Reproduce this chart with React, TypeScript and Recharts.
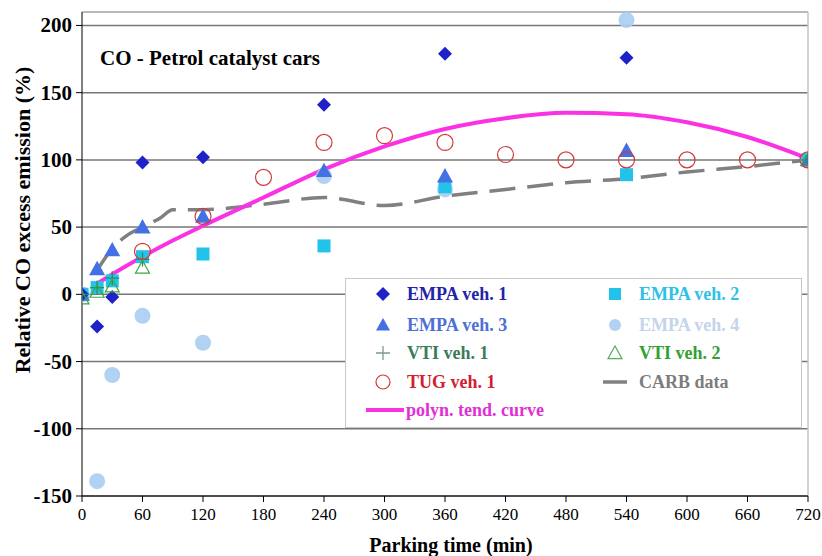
import {
  ComposedChart,
  Scatter,
  Line,
  XAxis,
  YAxis,
  CartesianGrid,
  ReferenceLine,
} from 'recharts'

// parking time (min) / relative CO excess emission (%)
const xTicks = [0, 60, 120, 180, 240, 300, 360, 420, 480, 540, 600, 660, 720]
const yTicks = [-150, -100, -50, 0, 50, 100, 150, 200]

const empa1 = [
  { t: 0, v: 0 }, { t: 15, v: -24 }, { t: 30, v: -2 }, { t: 60, v: 98 },
  { t: 120, v: 102 }, { t: 240, v: 141 }, { t: 360, v: 179 }, { t: 540, v: 176 },
]
const empa2 = [
  { t: 0, v: 0 }, { t: 15, v: 5 }, { t: 30, v: 10 }, { t: 60, v: 28 },
  { t: 120, v: 30 }, { t: 240, v: 36 }, { t: 360, v: 80 }, { t: 540, v: 89 }, { t: 720, v: 100 },
]
const empa3 = [
  { t: 0, v: 0 }, { t: 15, v: 19 }, { t: 30, v: 33 }, { t: 60, v: 50 },
  { t: 120, v: 58 }, { t: 240, v: 92 }, { t: 360, v: 88 }, { t: 540, v: 107 }, { t: 720, v: 100 },
]
const empa4 = [
  { t: 0, v: 0 }, { t: 15, v: -139 }, { t: 30, v: -60 }, { t: 60, v: -16 },
  { t: 120, v: -36 }, { t: 240, v: 88 }, { t: 360, v: 78 }, { t: 540, v: 204 }, { t: 720, v: 100 },
]
const vti1 = [
  { t: 0, v: 0 }, { t: 15, v: 5 }, { t: 30, v: 12 }, { t: 60, v: 26 }, { t: 720, v: 100 },
]
const vti2 = [
  { t: 0, v: -3 }, { t: 15, v: 2 }, { t: 30, v: 6 }, { t: 60, v: 20 }, { t: 720, v: 100 },
]
const tug1 = [
  { t: 60, v: 32 }, { t: 120, v: 58 }, { t: 180, v: 87 }, { t: 240, v: 113 },
  { t: 300, v: 118 }, { t: 360, v: 113 }, { t: 420, v: 104 }, { t: 480, v: 100 },
  { t: 540, v: 100 }, { t: 600, v: 100 }, { t: 660, v: 100 }, { t: 720, v: 100 },
]
const carb = [
  { t: 15, v: 18 }, { t: 30, v: 34 }, { t: 45, v: 44 }, { t: 60, v: 50 }, { t: 78, v: 57 },
  { t: 90, v: 63 }, { t: 120, v: 63 }, { t: 180, v: 67 }, { t: 240, v: 72 }, { t: 300, v: 66 },
  { t: 360, v: 73 }, { t: 420, v: 78 }, { t: 480, v: 83 }, { t: 540, v: 86 }, { t: 600, v: 91 },
  { t: 660, v: 95 }, { t: 720, v: 100 },
]
const polyCurve = [
  { t: 15, v: 8 }, { t: 30, v: 15 }, { t: 60, v: 28 }, { t: 90, v: 40 }, { t: 120, v: 51 },
  { t: 180, v: 72 }, { t: 240, v: 93 }, { t: 300, v: 110 }, { t: 360, v: 123 }, { t: 420, v: 131 },
  { t: 480, v: 135 }, { t: 540, v: 134 }, { t: 600, v: 128 }, { t: 660, v: 117 }, { t: 720, v: 101 },
]

const C = {
  empa1: '#1f22c8',
  empa2: '#22c3ea',
  empa3: '#4470e6',
  empa4: '#a9cdf1',
  vti1: '#2f8a58',
  vti2: '#3aa83a',
  tug: '#d23a3a',
  carb: '#808080',
  poly: '#fa32e4',
}

const serif = 'Liberation Serif, Times New Roman, serif'

const Diamond = ({ cx, cy, fill, s = 7 }: any) => (
  <path d={`M${cx},${cy - s}L${cx + s},${cy}L${cx},${cy + s}L${cx - s},${cy}Z`} fill={fill} />
)
const Square = ({ cx, cy, fill, s = 6.5 }: any) => (
  <rect x={cx - s} y={cy - s} width={s * 2} height={s * 2} fill={fill} />
)
const Tri = ({ cx, cy, fill, stroke, s = 8, open }: any) => (
  <path
    d={`M${cx},${cy - s}L${cx + s},${cy + s * 0.8}L${cx - s},${cy + s * 0.8}Z`}
    fill={open ? 'none' : fill}
    stroke={open ? stroke : 'none'}
    strokeWidth={1.2}
  />
)
const Plus = ({ cx, cy, stroke, s = 7 }: any) => (
  <path d={`M${cx - s},${cy}H${cx + s}M${cx},${cy - s}V${cy + s}`} stroke={stroke} strokeWidth={1.3} />
)
const Circ = ({ cx, cy, fill, stroke, r = 8, open }: any) => (
  <circle cx={cx} cy={cy} r={r} fill={open ? 'none' : fill} stroke={open ? stroke : 'none'} strokeWidth={1.2} opacity={open ? 1 : 0.9} />
)

const XTick = ({ x, y, payload }: any) => (
  <text x={x} y={y + 16} textAnchor="middle" fill="#000" style={{ fontFamily: serif, fontSize: 17 }}>
    {payload.value}
  </text>
)
const YTick = ({ x, y, payload }: any) => (
  <text x={x - 2} y={y + 7} textAnchor="end" fill="#000" style={{ fontFamily: serif, fontSize: 21, fontWeight: 'bold' }}>
    {payload.value}
  </text>
)

function LegendRow({ y, x, icon, label, color }: any) {
  return (
    <>
      <svg style={{ position: 'absolute', left: x - 12, top: y - 12 }} width={24} height={24}>
        {icon}
      </svg>
      <div
        style={{
          position: 'absolute',
          left: x + 24,
          top: y - 12,
          fontFamily: serif,
          fontWeight: 'bold',
          fontSize: 18,
          lineHeight: '24px',
          color,
          whiteSpace: 'nowrap',
        }}
      >
        {label}
      </div>
    </>
  )
}

export default function App() {
  const lx = 37
  const rx = 269
  return (
    <div style={{ position: 'absolute', left: 0, top: 0, width: 822, height: 556, background: '#fff', fontFamily: serif }}>
      <ComposedChart
        width={822}
        height={556}
        margin={{ top: 12, right: 14, bottom: 20, left: 0 }}
      >
        <CartesianGrid vertical={false} stroke="#777" strokeWidth={1.5} />
        <ReferenceLine y={210} stroke="#c4c4c4" strokeWidth={1.5} />
        <ReferenceLine x={720} stroke="#c4c4c4" strokeWidth={1.5} />
        <XAxis
          type="number"
          dataKey="t"
          domain={[0, 720]}
          ticks={xTicks}
          height={40}
          tickSize={6}
          axisLine={{ stroke: '#000' }}
          tickLine={{ stroke: '#000' }}
          tick={<XTick />}
          allowDataOverflow
        />
        <YAxis
          type="number"
          domain={[-150, 210]}
          ticks={yTicks}
          width={82}
          tickSize={6}
          axisLine={{ stroke: '#000' }}
          tickLine={{ stroke: '#000' }}
          tick={<YTick />}
          allowDataOverflow
        />

        <Scatter data={empa4} dataKey="v" isAnimationActive={false} shape={(p: any) => <Circ cx={p.cx} cy={p.cy} fill={C.empa4} />} />
        <Scatter data={empa2} dataKey="v" isAnimationActive={false} shape={(p: any) => <Square cx={p.cx} cy={p.cy} fill={C.empa2} />} />
        <Scatter data={empa3} dataKey="v" isAnimationActive={false} shape={(p: any) => <Tri cx={p.cx} cy={p.cy} fill={C.empa3} />} />
        <Scatter data={empa1} dataKey="v" isAnimationActive={false} shape={(p: any) => <Diamond cx={p.cx} cy={p.cy} fill={C.empa1} />} />
        <Scatter data={vti1} dataKey="v" isAnimationActive={false} shape={(p: any) => <Plus cx={p.cx} cy={p.cy} stroke={C.vti1} />} />
        <Scatter data={vti2} dataKey="v" isAnimationActive={false} shape={(p: any) => <Tri cx={p.cx} cy={p.cy} stroke={C.vti2} open s={7} />} />
        <Scatter data={tug1} dataKey="v" isAnimationActive={false} shape={(p: any) => <Circ cx={p.cx} cy={p.cy} stroke={C.tug} open />} />

        <Line
          data={carb}
          dataKey="v"
          type="monotone"
          stroke={C.carb}
          strokeWidth={3.5}
          strokeDasharray="26 12"
          dot={false}
          isAnimationActive={false}
        />
        <Line
          data={polyCurve}
          dataKey="v"
          type="monotone"
          stroke={C.poly}
          strokeWidth={4}
          dot={false}
          isAnimationActive={false}
        />
      </ComposedChart>

      {/* chart title inside plot */}
      <div
        style={{
          position: 'absolute',
          left: 100,
          top: 46,
          fontFamily: serif,
          fontWeight: 'bold',
          fontSize: 21,
          color: '#000',
          whiteSpace: 'nowrap',
        }}
      >
        CO - Petrol catalyst cars
      </div>

      {/* axis titles */}
      <div
        style={{
          position: 'absolute',
          left: 23,
          top: 220,
          transform: 'translate(-50%, -50%) rotate(-90deg)',
          fontFamily: serif,
          fontWeight: 'bold',
          fontSize: 22,
          whiteSpace: 'nowrap',
          color: '#000',
        }}
      >
        Relative CO excess emission (%)
      </div>
      <div
        style={{
          position: 'absolute',
          left: 451,
          top: 535,
          transform: 'translateX(-50%)',
          fontFamily: serif,
          fontWeight: 'bold',
          fontSize: 20,
          lineHeight: '20px',
          whiteSpace: 'nowrap',
          color: '#000',
        }}
      >
        Parking time (min)
      </div>

      {/* legend */}
      <div
        style={{
          position: 'absolute',
          left: 345,
          top: 278,
          width: 455,
          height: 148,
          background: '#fff',
          border: '1px solid #c8c8c8',
        }}
      >
        <LegendRow x={lx} y={15} color="#2323a8" label="EMPA veh. 1" icon={<Diamond cx={12} cy={12} fill={C.empa1} s={7} />} />
        <LegendRow x={rx} y={15} color="#2ec2e4" label="EMPA veh. 2" icon={<Square cx={12} cy={12} fill={C.empa2} s={6} />} />
        <LegendRow x={lx} y={46} color="#4d6fd6" label="EMPA veh. 3" icon={<Tri cx={12} cy={12} fill={C.empa3} s={7} />} />
        <LegendRow x={rx} y={46} color="#c4d4ea" label="EMPA veh. 4" icon={<Circ cx={12} cy={12} fill={C.empa4} r={6} />} />
        <LegendRow x={lx} y={74} color="#3d7a5c" label="VTI veh. 1" icon={<Plus cx={12} cy={12} stroke="#7a9a8a" s={7} />} />
        <LegendRow x={rx} y={74} color="#33a033" label="VTI veh. 2" icon={<Tri cx={12} cy={12} stroke="#5aab5a" open s={7} />} />
        <LegendRow x={lx} y={103} color="#d22030" label="TUG veh. 1" icon={<Circ cx={12} cy={12} stroke={C.tug} open r={7} />} />
        <LegendRow
          x={rx}
          y={103}
          color="#7c7c7c"
          label="CARB data"
          icon={<path d="M0,12H24" stroke={C.carb} strokeWidth={3.5} />}
        />
        <svg style={{ position: 'absolute', left: 20, top: 119 }} width={38} height={24}>
          <path d="M0,12H38" stroke={C.poly} strokeWidth={4} />
        </svg>
        <div
          style={{
            position: 'absolute',
            left: 60,
            top: 119,
            fontFamily: serif,
            fontWeight: 'bold',
            fontSize: 18,
            lineHeight: '24px',
            color: '#e030d4',
            whiteSpace: 'nowrap',
          }}
        >
          polyn. tend. curve
        </div>
      </div>
    </div>
  )
}
